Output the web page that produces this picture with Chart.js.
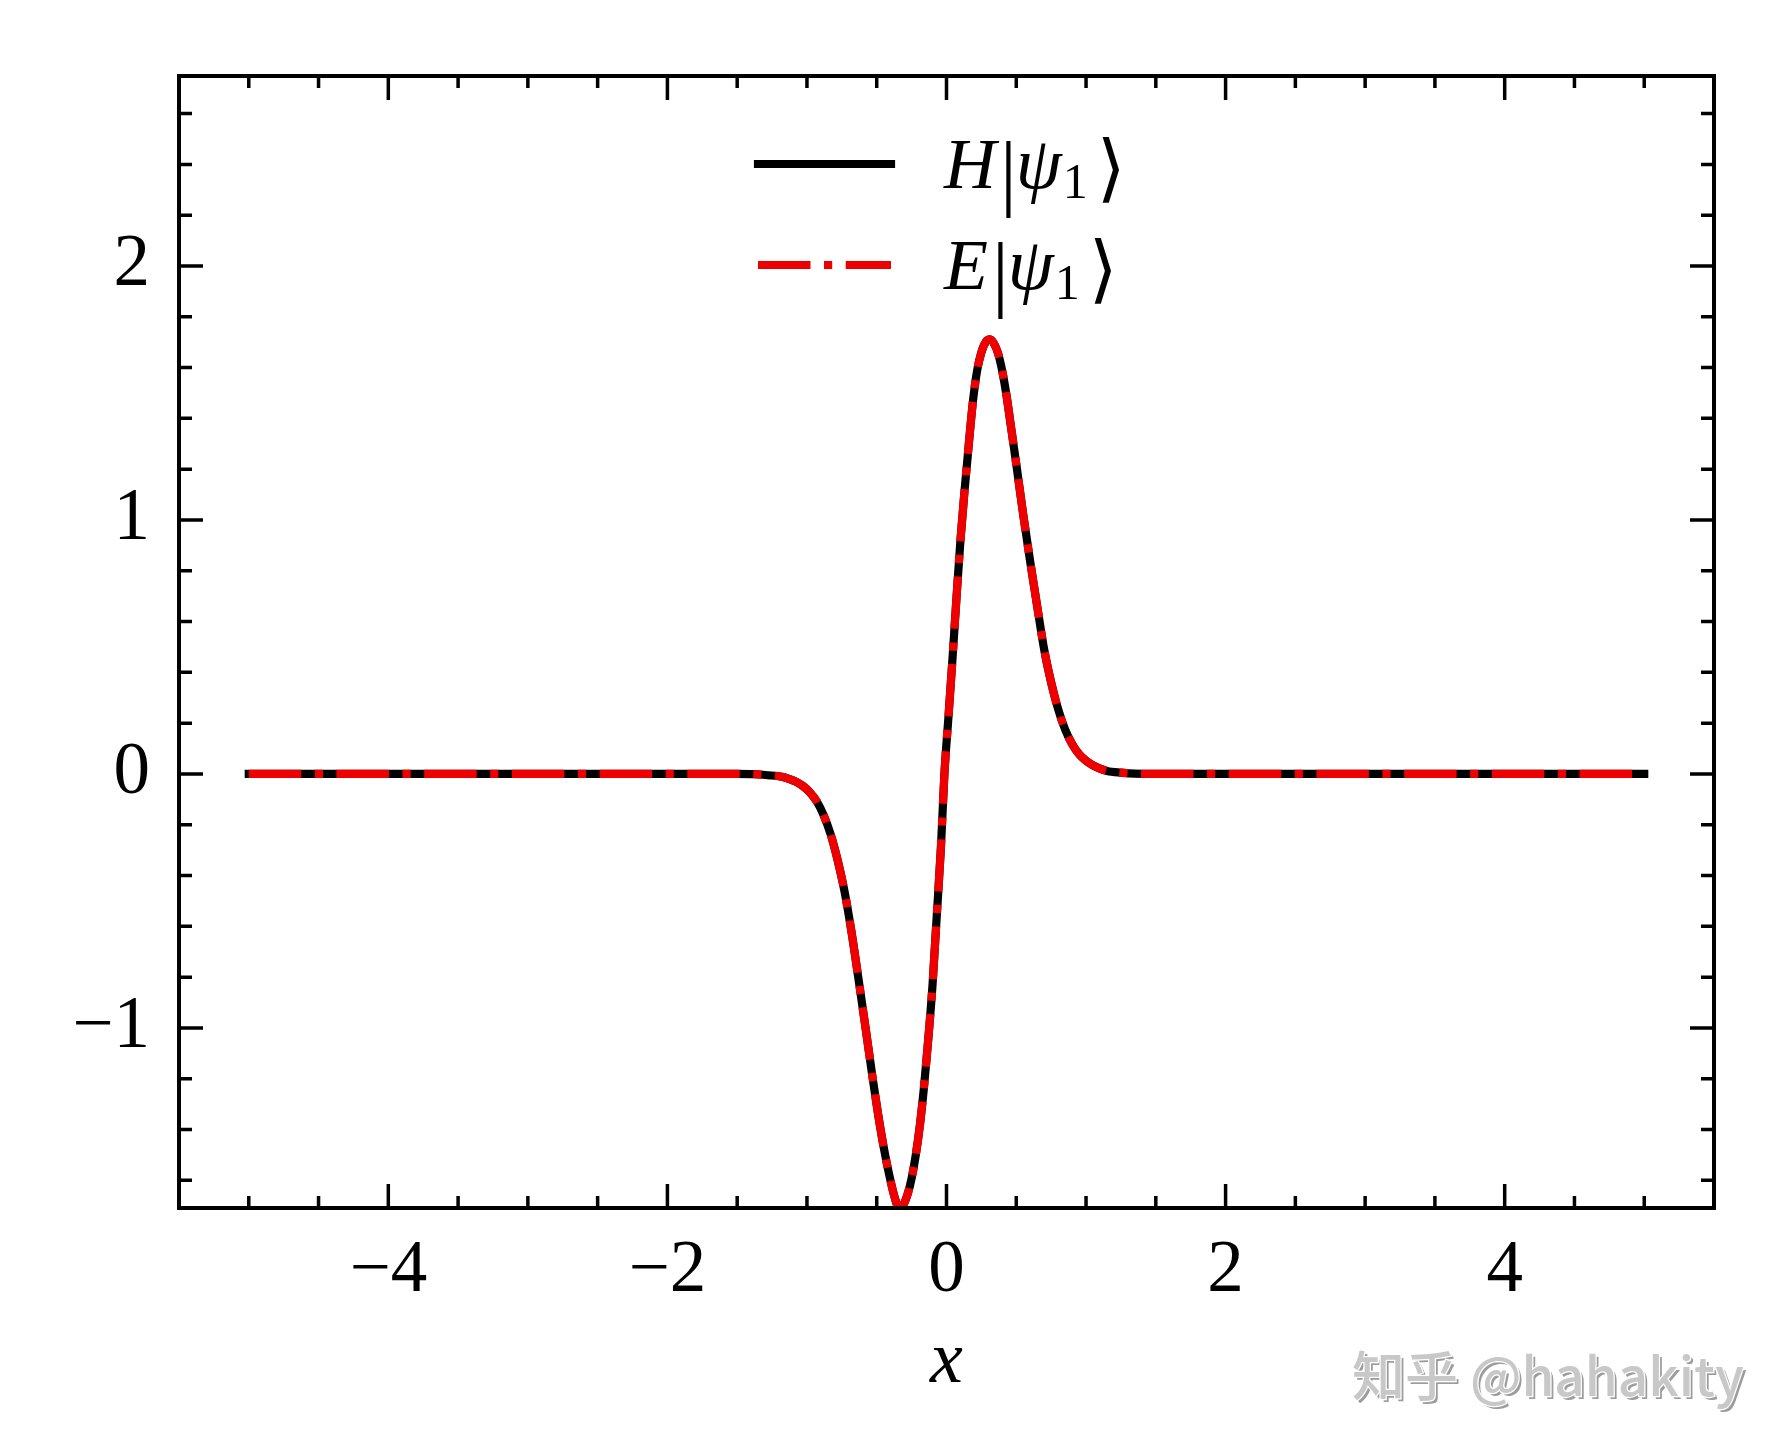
<!DOCTYPE html>
<html><head><meta charset="utf-8">
<script src="https://cdn.jsdelivr.net/npm/chart.js@4.4.1/dist/chart.umd.min.js"></script>
<style>html,body{margin:0;padding:0;background:#fff;} canvas{display:block;}</style>
</head><body>
<canvas id="c" width="1790" height="1455"></canvas>
<script>
// ---- data ----
const xValues = [-5.0, -4.0, -3.0, -2.0, -1.5, -1.38, -1.28, -1.18, -1.13, -1.08, -1.03, -0.98, -0.93, -0.88, -0.83, -0.78, -0.73, -0.68, -0.63, -0.58, -0.53, -0.49, -0.45, -0.41, -0.37, -0.34, -0.31, -0.28, -0.25, -0.22, -0.19, -0.16, -0.13, -0.10, -0.07, -0.04, -0.015, 0.014, 0.04, 0.07, 0.10, 0.13, 0.16, 0.19, 0.22, 0.25, 0.28, 0.311, 0.34, 0.37, 0.40, 0.43, 0.46, 0.50, 0.55, 0.60, 0.65, 0.70, 0.75, 0.80, 0.85, 0.90, 0.95, 1.00, 1.05, 1.10, 1.15, 1.25, 1.35, 1.5, 2.0, 3.0, 4.0, 5.0];
const hPsi = [0, 0, 0, 0, 0, -0.001, -0.005, -0.011, -0.019, -0.030, -0.047, -0.072, -0.108, -0.163, -0.238, -0.34, -0.465, -0.625, -0.81, -1.0, -1.195, -1.34, -1.47, -1.58, -1.67, -1.71, -1.697, -1.657, -1.592, -1.50, -1.38, -1.225, -1.04, -0.83, -0.56, -0.29, 0.0, 0.224, 0.43, 0.68, 0.92, 1.12, 1.30, 1.47, 1.59, 1.66, 1.70, 1.711, 1.695, 1.655, 1.585, 1.49, 1.375, 1.22, 1.02, 0.835, 0.66, 0.49, 0.36, 0.255, 0.175, 0.118, 0.078, 0.052, 0.034, 0.021, 0.012, 0.005, 0.001, 0, 0, 0, 0, 0];
const ePsi = [0, 0, 0, 0, 0, -0.001, -0.005, -0.011, -0.019, -0.030, -0.047, -0.072, -0.108, -0.163, -0.238, -0.34, -0.465, -0.625, -0.81, -1.0, -1.195, -1.34, -1.47, -1.58, -1.67, -1.71, -1.697, -1.657, -1.592, -1.50, -1.38, -1.225, -1.04, -0.83, -0.56, -0.29, 0.0, 0.224, 0.43, 0.68, 0.92, 1.12, 1.30, 1.47, 1.59, 1.66, 1.70, 1.711, 1.695, 1.655, 1.585, 1.49, 1.375, 1.22, 1.02, 0.835, 0.66, 0.49, 0.36, 0.255, 0.175, 0.118, 0.078, 0.052, 0.034, 0.021, 0.012, 0.005, 0.001, 0, 0, 0, 0, 0];
const xMajorTicks = [-4, -2, 0, 2, 4];
const yMajorTicks = [-1, 0, 1, 2];
const xMinorTicks = [-5, -4.5, -3.5, -3, -2.5, -1.5, -1, -0.5, 0.5, 1, 1.5, 2.5, 3, 3.5, 4.5, 5];
const yMinorTicks = [-1.6, -1.4, -1.2, -0.8, -0.6, -0.4, -0.2, 0.2, 0.4, 0.6, 0.8, 1.2, 1.4, 1.6, 1.8, 2.2, 2.4, 2.6];
const xRange = [-5.5, 5.5];
const yRange = [-1.709, 2.748];
const seriesNames = ['H', 'E'];
const xAxisTitle = 'x';
const watermark = '知乎 @hahakity';

// ---- styles ----
const SERIF = "'Liberation Serif', 'DejaVu Serif', serif";
const LW = 8.2;
const RED_DASH = [52.5, 13.5, 8.2, 13.5];
const fmt = v => (v < 0 ? '\u2212' + Math.abs(v) : String(v));

const pts = arr => xValues.map((x, i) => ({x: x, y: arr[i]}));

const frameTicks = {
  id: 'frameTicks',
  afterDatasetsDraw(chart) {
    const {ctx, chartArea: a, scales: {x, y}} = chart;
    ctx.save();
    ctx.strokeStyle = '#000';
    ctx.lineCap = 'butt';
    ctx.lineWidth = 3.5;
    const tx = (vals, len) => vals.forEach(v => {
      const p = x.getPixelForValue(v);
      ctx.beginPath();
      ctx.moveTo(p, a.bottom); ctx.lineTo(p, a.bottom - len);
      ctx.moveTo(p, a.top); ctx.lineTo(p, a.top + len);
      ctx.stroke();
    });
    const ty = (vals, len) => vals.forEach(v => {
      const p = y.getPixelForValue(v);
      ctx.beginPath();
      ctx.moveTo(a.left, p); ctx.lineTo(a.left + len, p);
      ctx.moveTo(a.right, p); ctx.lineTo(a.right - len, p);
      ctx.stroke();
    });
    tx(xMajorTicks, 24); tx(xMinorTicks, 12);
    ty(yMajorTicks, 24); ty(yMinorTicks, 13);
    ctx.lineWidth = 4;
    ctx.strokeRect(a.left, a.top, a.right - a.left, a.bottom - a.top);
    ctx.restore();
  },
  afterDraw(chart) {
    const ctx = chart.ctx;
    ctx.save();
    // legend
    const rows = [{c: '#000', dash: [], cap: 'square', y: 164}, {c: '#ee0000', dash: RED_DASH, cap: 'butt', y: 265}];
    rows.forEach((r, i) => {
      ctx.beginPath();
      ctx.strokeStyle = r.c; ctx.lineWidth = LW; ctx.lineCap = r.cap; ctx.setLineDash(r.dash);
      ctx.moveTo(758, r.y); ctx.lineTo(891, r.y); ctx.stroke();
      ctx.setLineDash([]);
      const base = r.y + 24;
      ctx.fillStyle = '#000';
      ctx.textBaseline = 'alphabetic';
      ctx.textAlign = 'left';
      ctx.font = "italic 72px " + SERIF;
      ctx.fillText(seriesNames[i], 944, base);
      let cx = 944 + ctx.measureText(seriesNames[i]).width + 4;
      ctx.font = "84px " + SERIF;
      ctx.fillText('|', cx, base + 12);
      cx += ctx.measureText('|').width - 1;
      ctx.font = "italic 74px " + SERIF;
      ctx.fillText('\u03C8', cx, base);
      cx += ctx.measureText('\u03C8').width + 1;
      ctx.font = "50px " + SERIF;
      ctx.fillText('1', cx, base + 10);
      cx += ctx.measureText('1').width + 9;
      ctx.font = "74px 'DejaVu Serif', 'DejaVu Sans', serif";
      ctx.fillText('\u27E9', cx, base + 5);
    });
    // watermark
    ctx.font = "500 53px 'Noto Sans CJK SC', 'Noto Sans', sans-serif";
    ctx.textBaseline = 'alphabetic';
    ctx.fillStyle = '#9c9c9c';
    ctx.fillText(watermark, 1355, 1399);
    ctx.lineWidth = 2.5; ctx.strokeStyle = '#ffffff';
    ctx.strokeText(watermark, 1352, 1396);
    ctx.fillStyle = '#c8c8c8';
    ctx.fillText(watermark, 1352, 1396);
    ctx.restore();
  }
};

new Chart(document.getElementById('c'), {
  type: 'line',
  data: {
    datasets: [
      {label: 'H|ψ₁⟩', data: pts(hPsi), borderColor: '#000', borderWidth: LW, borderCapStyle: 'square',
       pointRadius: 0, cubicInterpolationMode: 'monotone', fill: false, order: 2, clip: 0},
      {label: 'E|ψ₁⟩', data: pts(ePsi), borderColor: '#ee0000', borderWidth: LW, borderCapStyle: 'butt',
       borderDash: RED_DASH, pointRadius: 0, cubicInterpolationMode: 'monotone', fill: false, order: 1, clip: 0}
    ]
  },
  options: {
    responsive: false, animation: false, devicePixelRatio: 1,
    layout: {padding: {left: 0, top: 76, right: 76, bottom: 0}},
    plugins: {legend: {display: false}, tooltip: {enabled: false}, title: {display: false}},
    scales: {
      x: {
        type: 'linear', min: xRange[0], max: xRange[1],
        afterBuildTicks: s => { s.ticks = xMajorTicks.map(v => ({value: v})); },
        afterFit: s => { s.height = 247; },
        grid: {display: false, drawTicks: false}, border: {display: false},
        ticks: {callback: v => fmt(v), font: {family: SERIF, size: 73}, color: '#000', padding: 20, maxRotation: 0, autoSkip: false},
        title: {display: true, text: xAxisTitle, color: '#000', font: {family: SERIF, size: 74, style: 'italic'}, padding: {top: 0, bottom: 48}}
      },
      y: {
        type: 'linear', min: yRange[0], max: yRange[1],
        afterBuildTicks: s => { s.ticks = yMajorTicks.map(v => ({value: v})); },
        afterFit: s => { s.width = 179; },
        grid: {display: false, drawTicks: false}, border: {display: false},
        ticks: {callback: v => fmt(v), font: {family: SERIF, size: 73}, color: '#000', padding: 29, autoSkip: false}
      }
    }
  },
  plugins: [frameTicks]
});
</script>
</body></html>
